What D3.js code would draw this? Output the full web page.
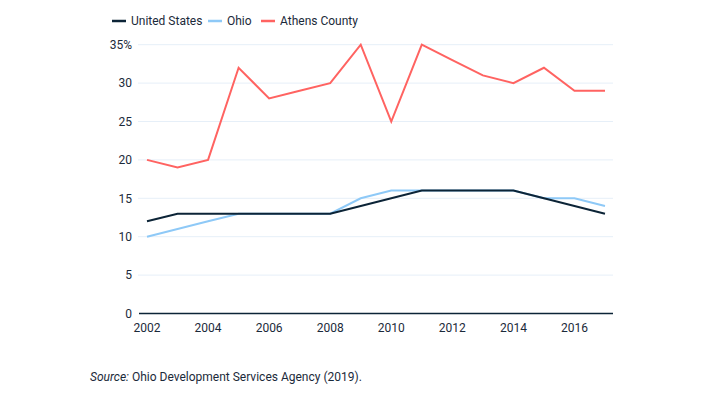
<!DOCTYPE html>
<html><head><meta charset="utf-8">
<script src="https://cdn.jsdelivr.net/npm/d3@7"></script>
<style>
body{margin:0;background:#fff;}
text{font-family:Roboto, "Open Sans", sans-serif;fill:#1b2a3a;}
</style></head>
<body><svg id="c" width="723" height="397"></svg>
<script>
const years = [2002,2003,2004,2005,2006,2007,2008,2009,2010,2011,2012,2013,2014,2015,2016,2017];
const unitedStates = [12,13,13,13,13,13,13,14,15,16,16,16,16,15,14,13];
const ohio = [10,11,12,13,13,13,13,15,16,16,16,16,16,15,15,14];
const athensCounty = [20,19,20,32,28,29,30,35,25,35,33,31,30,32,29,29];
const yTicks = [0,5,10,15,20,25,30,35];
const xTicks = [2002,2004,2006,2008,2010,2012,2014,2016];
const seriesNames = ["United States","Ohio","Athens County"];
const colors = ["#0c2437","#8ec9f7","#ff6361"];

const svg = d3.select("#c");
const x = d3.scaleLinear().domain([2002,2017]).range([147,605]);
const y = d3.scaleLinear().domain([0,35]).range([313.5,44.7]);

// grid
svg.append("g").selectAll("line").data(yTicks.filter(d=>d>0)).join("line")
  .attr("x1",138).attr("x2",613).attr("y1",d=>y(d)).attr("y2",d=>y(d))
  .attr("stroke","#e6eff8").attr("stroke-width",1);

// y labels
svg.append("g").selectAll("text").data(yTicks).join("text")
  .attr("x",132).attr("y",d=>y(d)).attr("dy","0.35em").attr("text-anchor","end")
  .attr("font-size",12).text(d=>d===35?"35%":d);

// x axis
svg.append("line").attr("x1",139).attr("x2",613).attr("y1",y(0)).attr("y2",y(0))
  .attr("stroke","#0c2437").attr("stroke-width",1.3);
svg.append("g").selectAll("text").data(xTicks).join("text")
  .attr("x",d=>x(d)).attr("y",328).attr("dy","0.35em").attr("text-anchor","middle")
  .attr("font-size",12).text(d=>d);

// lines
const data = [unitedStates, ohio, athensCounty];
const line = d3.line().x((d,i)=>x(years[i])).y(d=>y(d));
[1,2,0].forEach(k=>{
  svg.append("path").datum(data[k]).attr("d",line).attr("fill","none")
    .attr("stroke",colors[k]).attr("stroke-width",2).attr("stroke-linejoin","miter");
});

// legend
const legX = [112,208,261];
const lg = svg.append("g");
seriesNames.forEach((n,i)=>{
  lg.append("line").attr("x1",legX[i]).attr("x2",legX[i]+14).attr("y1",21).attr("y2",21)
    .attr("stroke",colors[i]).attr("stroke-width",2.5);
  lg.append("text").attr("x",legX[i]+19).attr("y",21).attr("dy","0.35em")
    .attr("font-size",12).text(n);
});

// source
const s = svg.append("text").attr("x",90).attr("y",377).attr("dy","0.35em").attr("font-size",12);
s.append("tspan").attr("font-style","italic").text("Source:");
s.append("tspan").text(" Ohio Development Services Agency (2019).");
</script></body></html>
